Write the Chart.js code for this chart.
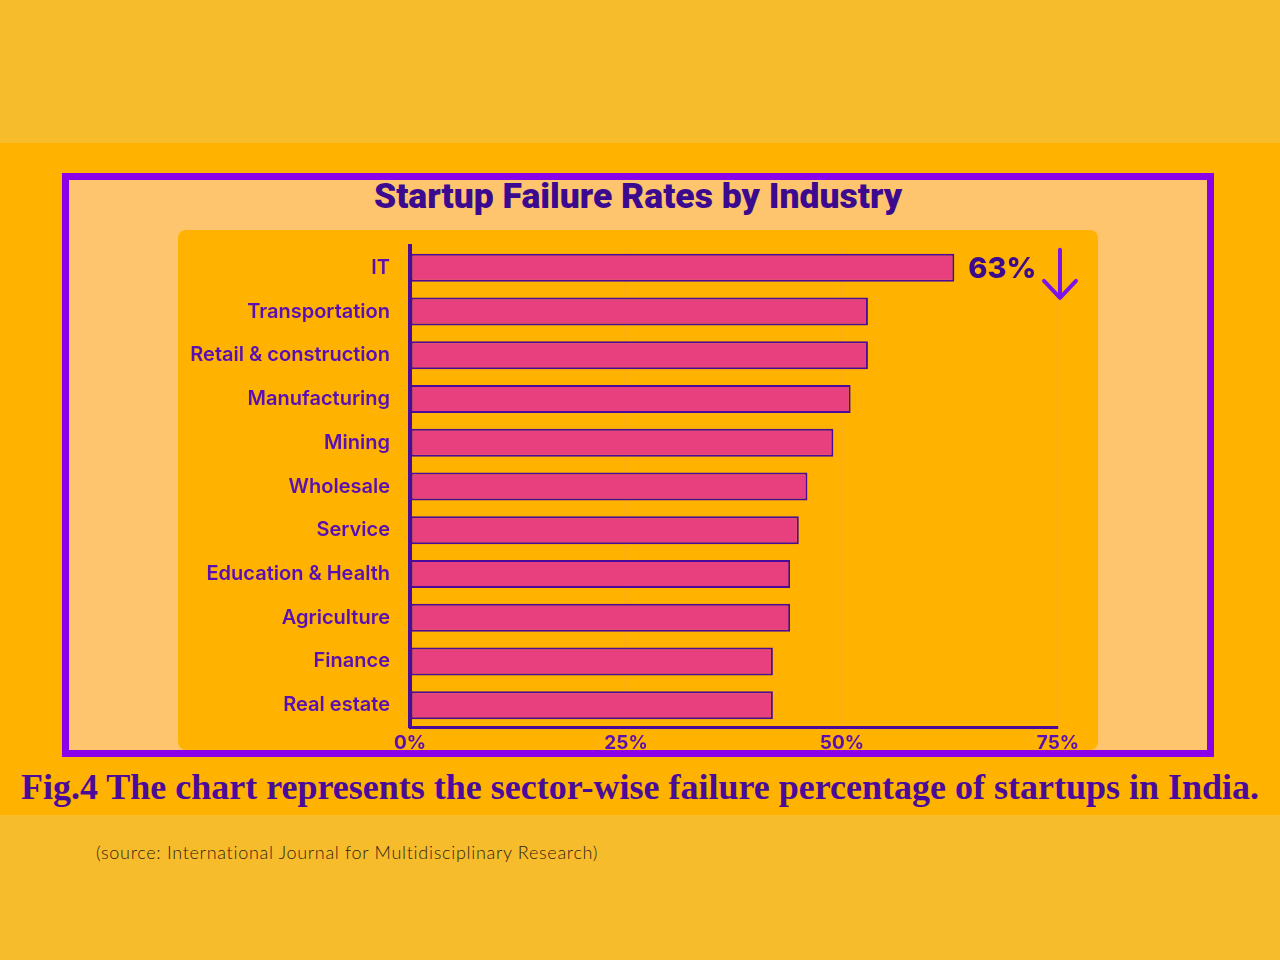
<!DOCTYPE html>
<html>
<head>
<meta charset="utf-8">
<script src="https://cdn.jsdelivr.net/npm/chart.js"></script>
<style>
  html, body { margin: 0; padding: 0; }
  body { width: 1280px; height: 960px; background: #F7BC2C; position: relative; overflow: hidden; font-family: "Noto Sans", sans-serif; }
  .band { position: absolute; left: 0; top: 143px; width: 1280px; height: 672px; background: #FFB300; }
  .frame { position: absolute; left: 62px; top: 173px; width: 1138px; height: 570px; border: 7px solid #8A00E8; background: #FFC56E; }
  .title { position: absolute; left: 62px; top: 175px; width: 1152px; text-align: center; font-family: Roboto, sans-serif; font-weight: 900; font-size: 35.5px; color: #3C0A8E; }
  .plot { position: absolute; left: 178px; top: 230px; width: 920px; height: 520px; background: #FFB300; border-radius: 8px; }
  .plot canvas { position: absolute; left: 0; top: 0; }
  .caption { position: absolute; left: 0; top: 766px; width: 1280px; text-align: center; font-family: "Liberation Serif", serif; font-weight: 700; font-size: 36px; color: #4A0A9A; }
  .source { position: absolute; left: 96px; top: 841px; font-family: Lato, sans-serif; font-weight: 300; font-size: 18px; letter-spacing: 0.7px; color: #2E2410; }
</style>
</head>
<body>
<div class="band"></div>
<div class="frame"></div>
<div class="title">Startup Failure Rates by Industry</div>
<div class="plot"><canvas id="chart" width="920" height="520"></canvas></div>
<div class="caption">Fig.4 The chart represents the sector-wise failure percentage of startups in India.</div>
<div class="source">(source: International Journal for Multidisciplinary Research)</div>
<script>
const industries = ['IT', 'Transportation', 'Retail & construction', 'Manufacturing', 'Mining', 'Wholesale', 'Service', 'Education & Health', 'Agriculture', 'Finance', 'Real estate'];
const failureRates = [63, 53, 53, 51, 49, 46, 45, 44, 44, 42, 42];
const xTicks = [0, 25, 50, 75];
const highlightLabel = '63%';

const purple = '#4A0A9A';
const labelPurple = '#5A0FB4';

// label next to the top bar plus the down arrow at the 75% line
const annotate = {
  id: 'annotate',
  afterDatasetsDraw(chart) {
    const ctx = chart.ctx;
    const bar = chart.getDatasetMeta(0).data[0];
    const xs = chart.scales.x;
    ctx.save();
    ctx.fillStyle = '#3C0A8E';
    ctx.font = '800 29px Inter, sans-serif';
    ctx.textAlign = 'left';
    ctx.textBaseline = 'middle';
    ctx.fillText(highlightLabel, bar.x + 14, bar.y + 1);
    const ax = xs.getPixelForValue(xTicks[xTicks.length - 1]) + 2;
    ctx.strokeStyle = '#7A14E8';
    ctx.lineWidth = 4;
    ctx.lineCap = 'round';
    ctx.lineJoin = 'round';
    ctx.beginPath();
    ctx.moveTo(ax, bar.y - 18);
    ctx.lineTo(ax, bar.y + 30);
    ctx.moveTo(ax - 16, bar.y + 13);
    ctx.lineTo(ax, bar.y + 30);
    ctx.lineTo(ax + 16, bar.y + 13);
    ctx.stroke();
    ctx.restore();
  }
};

new Chart(document.getElementById('chart'), {
  type: 'bar',
  data: {
    labels: industries,
    datasets: [{
      data: failureRates,
      backgroundColor: '#E8407F',
      borderColor: purple,
      borderWidth: 2,
      borderSkipped: false,
      barPercentage: 0.64,
      categoryPercentage: 1
    }]
  },
  options: {
    indexAxis: 'y',
    responsive: false,
    animation: false,
    layout: { padding: { top: 16, right: 40, bottom: 0, left: 0 } },
    plugins: { legend: { display: false }, tooltip: { enabled: false } },
    scales: {
      x: {
        min: 0,
        max: 75,
        afterBuildTicks: s => { s.ticks = xTicks.map(v => ({ value: v })); },
        afterFit: s => { s.height = 23; s.paddingLeft = 0; s.paddingRight = 0; },
        ticks: {
          color: labelPurple,
          font: { family: 'Inter, sans-serif', size: 19, weight: '700' },
          padding: 5,
          callback: v => v + '%'
        },
        grid: {
          color: ctx => ctx.tick && ctx.tick.value === 0 ? 'rgba(0,0,0,0)' : 'rgba(245,150,150,0.7)',
          lineWidth: 1.2,
          drawTicks: false
        },
        border: { color: purple, width: 3 }
      },
      y: {
        afterFit: s => { s.width = 232; s.paddingTop = 0; s.paddingBottom = 0; },
        ticks: {
          color: labelPurple,
          font: { family: 'Inter, sans-serif', size: 20, weight: '600' },
          padding: 20
        },
        grid: { display: false, drawTicks: false },
        border: { color: purple, width: 4 }
      }
    }
  },
  plugins: [annotate]
});
</script>
</body>
</html>
